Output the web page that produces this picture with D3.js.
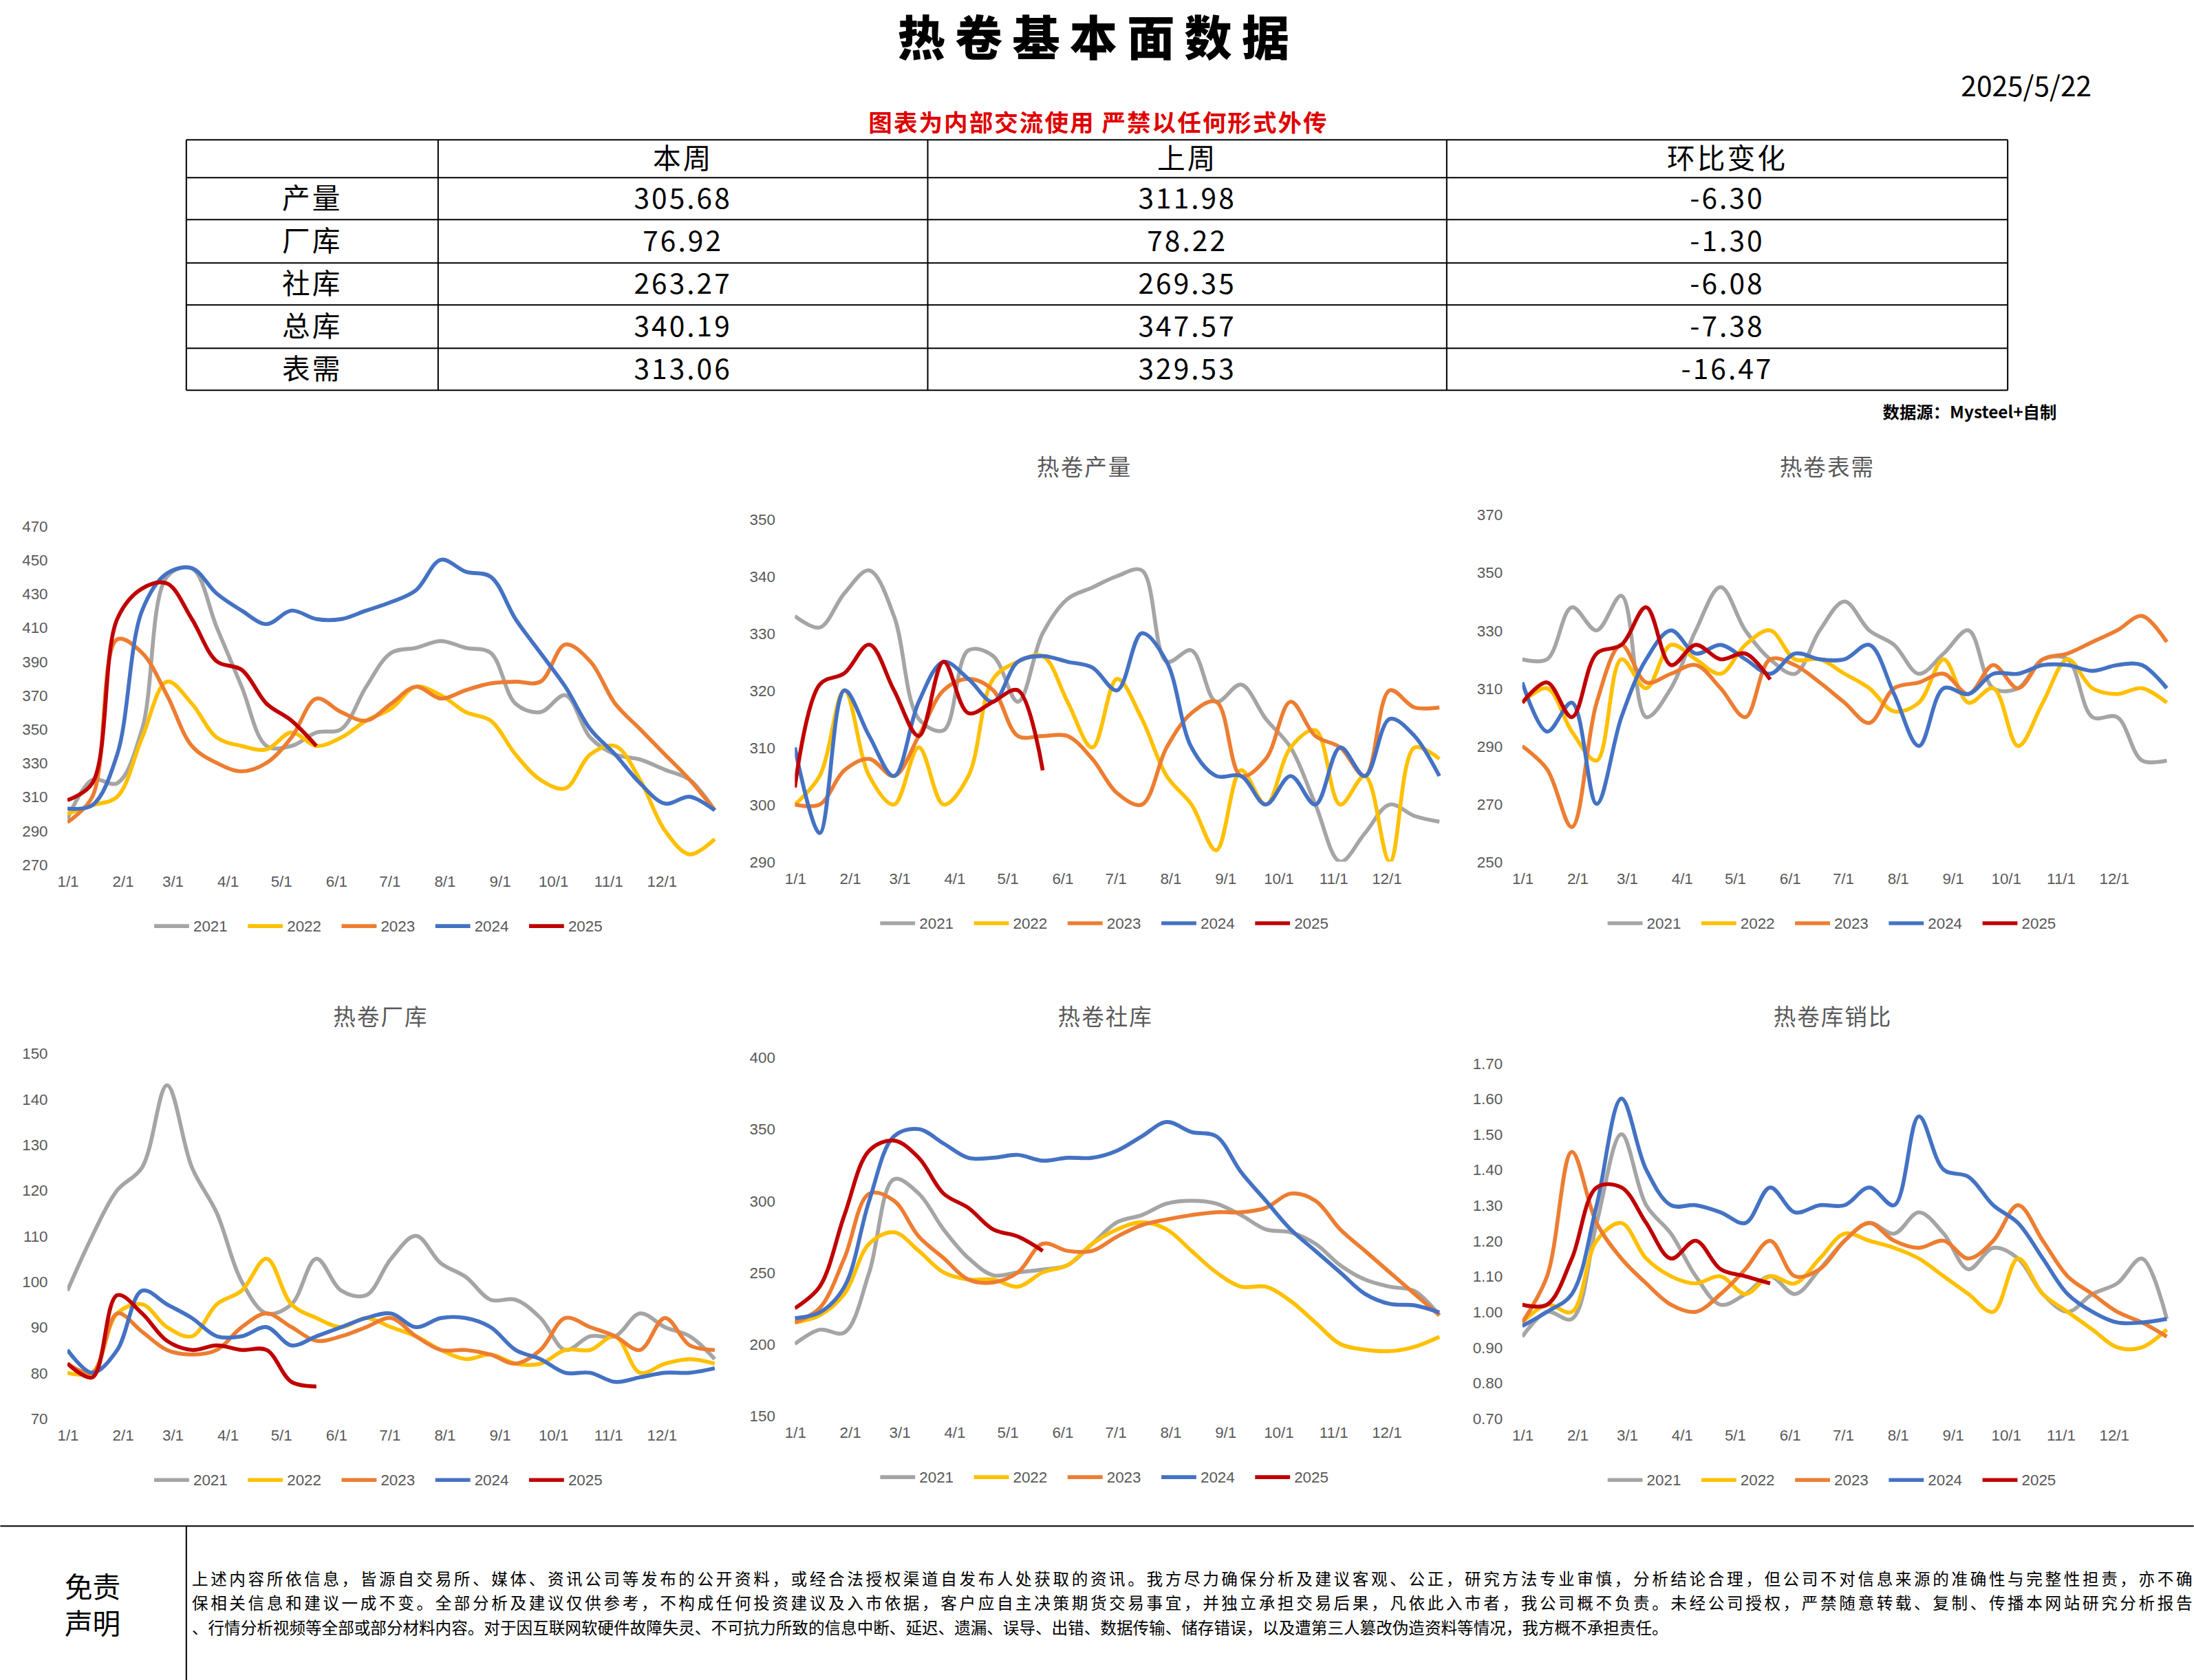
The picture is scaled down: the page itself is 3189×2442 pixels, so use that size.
<!DOCTYPE html>
<html><head><meta charset="utf-8">
<script src="https://cdn.jsdelivr.net/npm/d3@7"></script>
<style>body{margin:0;background:#fff}svg{display:block}</style>
</head><body>
<svg id="c" width="3189" height="2442" viewBox="0 0 1568 1201"></svg>
<script>
// ---- data ----
const years = ['2021', '2022', '2023', '2024', '2025'];
const yearColors = ['#a5a5a5', '#ffc000', '#ed7d31', '#4472c4', '#c00000'];
const monthLabels = ['1/1','2/1','3/1','4/1','5/1','6/1','7/1','8/1','9/1','10/1','11/1','12/1'];
const monthDays = [0,31,59,90,120,151,181,212,243,273,304,334];
// values every 14 days from 1/1
const totalStock = [
  [297,320,318,350,440,445,410,375,340,340,348,350,375,395,398,402,398,395,365,360,370,345,335,332,326,320,302],
  [300,305,310,345,378,365,345,340,338,348,340,345,355,362,375,370,360,355,335,320,315,335,340,320,290,276,285],
  [295,310,403,395,370,340,330,325,330,345,368,360,355,365,375,368,373,377,378,378,400,390,365,350,335,320,302],
  [303,305,335,420,442,445,430,420,412,420,415,415,420,425,432,450,443,440,415,395,375,350,335,318,306,310,302],
  [308,318,415,433,436,415,390,385,365,355,340]
];
const output = [
  [333,331,337,341,333,315,313,327,326,318,330,336,338,340,341,325,327,318,321,315,310,300,290,295,300,298,297],
  [300,305,320,305,300,310,300,305,322,325,326,318,310,322,315,305,300,292,306,300,310,313,300,305,290,310,308],
  [300,300,306,308,305,312,320,322,320,312,312,312,308,302,300,310,316,318,305,308,318,312,310,305,320,317,317],
  [310,295,320,312,305,318,325,322,318,325,326,325,324,320,330,325,310,305,305,300,305,300,310,305,315,312,305],
  [303,321,323,328,320,312,325,316,318,320,306]
];
const demand = [
  [320,320,338,330,342,300,310,330,345,330,320,315,330,340,330,325,315,322,330,310,310,320,320,300,300,285,285],
  [305,310,295,285,320,310,325,320,315,325,330,320,320,315,310,302,305,320,305,310,290,305,320,310,308,310,305],
  [290,282,262,305,325,312,315,318,310,300,320,318,312,305,298,310,312,315,308,318,310,320,322,326,330,335,326],
  [312,295,305,270,300,320,330,322,325,320,315,322,320,320,325,308,290,310,308,315,315,318,318,316,318,318,310],
  [305,312,300,322,325,338,318,325,320,322,313]
];
const millStock = [
  [98,110,120,125,143,125,115,100,93,95,105,98,97,105,110,104,101,96,96,92,85,88,88,93,90,88,83],
  [80,80,93,95,90,88,95,98,105,95,92,90,92,90,88,85,83,84,82,82,85,85,88,80,82,83,82],
  [82,80,93,89,85,84,85,90,93,90,87,88,90,92,88,85,85,84,82,85,92,90,88,85,92,86,85],
  [85,80,85,98,95,92,88,88,90,86,88,90,92,93,90,92,92,90,85,83,80,80,78,79,80,80,81],
  [82,79,97,93,87,85,86,85,85,78,77]
];
const socialStock = [
  [200,210,208,250,315,305,280,260,248,250,252,255,270,285,290,298,300,298,290,280,278,270,255,245,240,237,220],
  [215,220,235,270,278,265,250,245,245,240,250,255,270,280,285,280,265,250,240,240,230,215,200,196,195,198,205],
  [215,225,260,305,300,275,260,245,243,250,270,265,265,275,283,287,290,292,292,295,305,300,280,265,250,235,220],
  [218,222,240,300,345,350,340,330,330,332,328,330,330,335,345,355,348,345,320,300,280,265,250,235,228,227,222],
  [225,240,290,335,342,330,305,295,280,275,265]
];
const stockSalesRatio = [
  [0.93,1.00,0.98,1.25,1.50,1.30,1.22,1.10,1.02,1.05,1.10,1.05,1.12,1.20,1.25,1.22,1.28,1.22,1.12,1.18,1.15,1.05,1.00,1.05,1.08,1.15,0.98],
  [0.97,1.02,1.00,1.20,1.25,1.15,1.10,1.08,1.10,1.05,1.10,1.08,1.15,1.22,1.20,1.18,1.15,1.10,1.05,1.00,1.15,1.05,1.00,0.95,0.90,0.90,0.95],
  [0.97,1.10,1.45,1.25,1.15,1.08,1.02,1.00,1.05,1.12,1.20,1.10,1.12,1.20,1.25,1.20,1.18,1.20,1.15,1.20,1.30,1.20,1.10,1.05,1.00,0.97,0.93],
  [0.96,1.00,1.05,1.30,1.60,1.40,1.30,1.30,1.28,1.25,1.35,1.28,1.30,1.30,1.35,1.30,1.55,1.40,1.38,1.30,1.25,1.15,1.05,1.00,0.97,0.97,0.98],
  [1.02,1.02,1.15,1.35,1.35,1.25,1.15,1.20,1.12,1.10,1.08]
];
const tableCols = ['', '本周', '上周', '环比变化'];
const tableRows = ['产量', '厂库', '社库', '总库', '表需'];
const thisWeek = ['305.68', '76.92', '263.27', '340.19', '313.06'];
const lastWeek = ['311.98', '78.22', '269.35', '347.57', '329.53'];
const change = ['-6.30', '-1.30', '-6.08', '-7.38', '-16.47'];

const svg = d3.select('#c');
const serif = '"Noto Sans CJK SC", serif';

// ---- header ----
svg.append('text').attr('x', 785).attr('y', 40).attr('text-anchor', 'middle')
  .attr('font-family', '"Noto Sans CJK SC"').attr('font-weight', 900)
  .attr('font-size', 34).attr('letter-spacing', 7).text('热卷基本面数据');
svg.append('text').attr('x', 1495).attr('y', 69).attr('text-anchor', 'end')
  .attr('font-family', serif).attr('font-size', 20).text('2025/5/22');
svg.append('text').attr('x', 785).attr('y', 94).attr('text-anchor', 'middle')
  .attr('font-family', serif).attr('font-size', 17).attr('font-weight', 700).attr('letter-spacing', 1)
  .attr('fill', '#e00000').text('图表为内部交流使用 严禁以任何形式外传');

const colX = [133, 313, 663, 1034, 1435];
const rowY = [100, 127, 157, 188, 218, 249, 279];
const tg = svg.append('g').attr('stroke', '#000').attr('stroke-width', 1);
rowY.forEach(y => tg.append('line').attr('x1', 133).attr('x2', 1435).attr('y1', y).attr('y2', y));
colX.forEach(x => tg.append('line').attr('x1', x).attr('x2', x).attr('y1', 100).attr('y2', 279));
const cell = (c, r, t) => svg.append('text').attr('x', (colX[c] + colX[c + 1]) / 2)
  .attr('y', (rowY[r] + rowY[r + 1]) / 2 + 7).attr('text-anchor', 'middle')
  .attr('font-family', serif).attr('font-size', 20).attr('letter-spacing', 1.5).text(t);
tableCols.forEach((t, i) => cell(i, 0, t));
tableRows.forEach((t, i) => {
  cell(0, i + 1, t); cell(1, i + 1, thisWeek[i]); cell(2, i + 1, lastWeek[i]); cell(3, i + 1, change[i]);
});
svg.append('text').attr('x', 1470).attr('y', 299).attr('text-anchor', 'end')
  .attr('font-family', serif).attr('font-weight', 700).attr('font-size', 12).text('数据源：Mysteel+自制');

// ---- panels ----
const panels = [
  {title: '', data: totalStock, x0: 48, x1: 512, yTop: 376, yBot: 618, dom: [270, 470], step: 20, fmt: d3.format('d'), tx: 275},
  {title: '热卷产量', data: output, x0: 568, x1: 1030, yTop: 371, yBot: 616, dom: [290, 350], step: 10, fmt: d3.format('d'), tx: 775},
  {title: '热卷表需', data: demand, x0: 1088, x1: 1550, yTop: 368, yBot: 616, dom: [250, 370], step: 20, fmt: d3.format('d'), tx: 1306},
  {title: '热卷厂库', data: millStock, x0: 48, x1: 512, yTop: 753, yBot: 1014, dom: [70, 150], step: 10, fmt: d3.format('d'), tx: 272},
  {title: '热卷社库', data: socialStock, x0: 568, x1: 1030, yTop: 756, yBot: 1012, dom: [150, 400], step: 50, fmt: d3.format('d'), tx: 790},
  {title: '热卷库销比', data: stockSalesRatio, x0: 1088, x1: 1550, yTop: 760, yBot: 1014, dom: [0.70, 1.70], step: 0.1, fmt: d3.format('.2f'), tx: 1310}
];
const titleY = [340, 340, 340, 733, 733, 733];

panels.forEach((p, pi) => {
  const g = svg.append('g');
  const x = d3.scaleLinear().domain([0, 365]).range([p.x0, p.x1]);
  const y = d3.scaleLinear().domain(p.dom).range([p.yBot, p.yTop]);
  if (p.title) g.append('text').attr('x', p.tx).attr('y', titleY[pi]).attr('text-anchor', 'middle')
    .attr('font-family', serif).attr('font-size', 16).attr('letter-spacing', 1).attr('fill', '#595959').text(p.title);
  const ticks = d3.range(p.dom[0], p.dom[1] + p.step / 2, p.step);
  const ya = d3.axisLeft(y).tickValues(ticks).tickFormat(p.fmt).tickSize(0).tickPadding(14);
  g.append('g').attr('transform', `translate(${p.x0},0)`).call(ya)
    .call(a => a.select('.domain').remove())
    .selectAll('text').attr('font-family', 'Liberation Sans').attr('font-size', 11).attr('fill', '#595959');
  const xa = d3.axisBottom(x).tickValues(monthDays).tickFormat((d, i) => monthLabels[i]).tickSize(0).tickPadding(8);
  g.append('g').attr('transform', `translate(0,${p.yBot})`).call(xa)
    .call(a => a.select('.domain').remove())
    .selectAll('text').attr('font-family', 'Liberation Sans').attr('font-size', 11).attr('fill', '#595959');
  const clipId = 'clip' + p.x0 + p.yTop;
  g.append('clipPath').attr('id', clipId).append('rect')
    .attr('x', p.x0).attr('y', p.yTop - 5).attr('width', p.x1 - p.x0).attr('height', p.yBot - p.yTop + 5);
  const line = d3.line().x((d, i) => x(i * 14)).y(d => y(d)).curve(d3.curveCatmullRom);
  p.data.forEach((s, k) => {
    g.append('path').attr('clip-path', `url(#${clipId})`).attr('d', line(s))
      .attr('fill', 'none').attr('stroke', yearColors[k]).attr('stroke-width', 2.8)
      .attr('stroke-linejoin', 'round');
  });
  const cx = (p.x0 + p.x1) / 2 - 10;
  const ly = p.yBot + 44;
  years.forEach((yr, k) => {
    const lx = cx - 160 + k * 67;
    g.append('line').attr('x1', lx).attr('x2', lx + 25).attr('y1', ly).attr('y2', ly)
      .attr('stroke', yearColors[k]).attr('stroke-width', 2.8);
    g.append('text').attr('x', lx + 28).attr('y', ly + 4).attr('font-family', 'Liberation Sans')
      .attr('font-size', 11).attr('fill', '#595959').text(yr);
  });
});

// ---- footer ----
svg.append('line').attr('x1', 0).attr('x2', 1568).attr('y1', 1091).attr('y2', 1091).attr('stroke', '#000');
svg.append('line').attr('x1', 133).attr('x2', 133).attr('y1', 1091).attr('y2', 1201).attr('stroke', '#000');
svg.append('text').attr('x', 66).attr('y', 1142).attr('text-anchor', 'middle').attr('font-family', serif).attr('font-size', 20).text('免责');
svg.append('text').attr('x', 66).attr('y', 1168).attr('text-anchor', 'middle').attr('font-family', serif).attr('font-size', 20).text('声明');
const footLines = [
  '上述内容所依信息，皆源自交易所、媒体、资讯公司等发布的公开资料，或经合法授权渠道自发布人处获取的资讯。我方尽力确保分析及建议客观、公正，研究方法专业审慎，分析结论合理，但公司不对信息来源的准确性与完整性担责，亦不确',
  '保相关信息和建议一成不变。全部分析及建议仅供参考，不构成任何投资建议及入市依据，客户应自主决策期货交易事宜，并独立承担交易后果，凡依此入市者，我公司概不负责。未经公司授权，严禁随意转载、复制、传播本网站研究分析报告',
  '、行情分析视频等全部或部分材料内容。对于因互联网软硬件故障失灵、不可抗力所致的信息中断、延迟、遗漏、误导、出错、数据传输、储存错误，以及遭第三人篡改伪造资料等情况，我方概不承担责任。'
];
footLines.forEach((t, i) => svg.append('text').attr('x', 137).attr('y', 1133 + i * 17.5)
  .attr('font-family', serif).attr('font-size', 11.6).attr('textLength', i < 2 ? 1430 : null).text(t));
</script>
</body></html>
